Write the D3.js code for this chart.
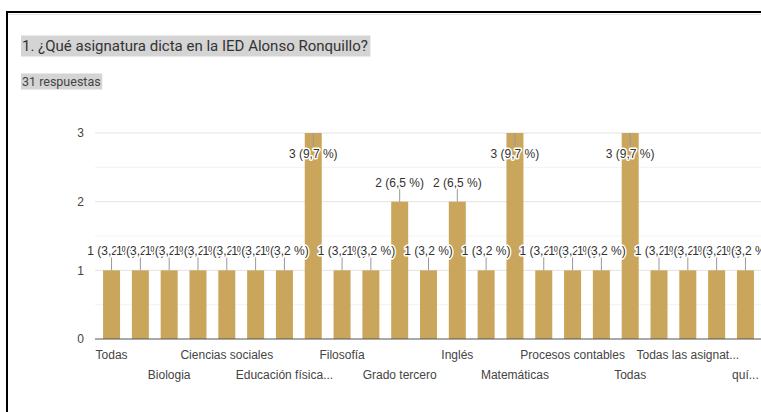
<!DOCTYPE html>
<html>
<head>
<meta charset="utf-8">
<script src="https://cdn.jsdelivr.net/npm/d3@7"></script>
<style>
  body { margin: 0; background: #fff; }
  svg { display: block; }
</style>
</head>
<body>
<div id="chart"></div>
<script>
// Chart data
const totalResponses = 31;
const values = [1, 1, 1, 1, 1, 1, 1, 3, 1, 1, 2, 1, 2, 1, 3, 1, 1, 1, 3, 1, 1, 1, 1];
// only every other category name is printed on the axis; the rest are unreadable
const tickLabels = ["Todas", "", "Biologia", "", "Ciencias sociales", "", "Educación física...", "",
  "Filosofía", "", "Grado tercero", "", "Inglés", "", "Matemáticas", "", "Procesos contables", "",
  "Todas", "", "Todas las asignat...", "", "quí..."];
const yTicks = [0, 1, 2, 3];
const yMinorTicks = [0.5, 1.5, 2.5];

const width = 761;
const height = 412;

const svg = d3.select("#chart")
  .append("svg")
  .attr("width", width)
  .attr("height", height);

// frame of the screenshot
svg.append("line")
  .attr("x1", 7).attr("x2", width).attr("y1", 12).attr("y2", 12)
  .attr("stroke", "#000").attr("stroke-width", 2);
svg.append("line")
  .attr("x1", 7).attr("x2", width).attr("y1", 14.5).attr("y2", 14.5)
  .attr("stroke", "#e6e6e6").attr("stroke-width", 1);
svg.append("line")
  .attr("x1", 7).attr("x2", 7).attr("y1", 11).attr("y2", height)
  .attr("stroke", "#000").attr("stroke-width", 2);

// title + count, with the grey highlight behind them
function highlighted(text, x, y, size, pad, color) {
  const g = svg.append("g");
  const rect = g.append("rect").attr("fill", "#d4d4d4");
  const t = g.append("text")
    .attr("x", x).attr("y", y)
    .attr("font-family", "Roboto, Arial, sans-serif")
    .attr("font-size", size)
    .attr("fill", color)
    .text(text);
  const b = t.node().getBBox();
  rect.attr("x", b.x - 1).attr("y", b.y - pad)
    .attr("width", b.width + pad + 2).attr("height", b.height + pad * 2);
}
highlighted("1. ¿Qué asignatura dicta en la IED Alonso Ronquillo?", 22, 51, 15, 1.5, "#333");
highlighted("31 respuestas", 22, 86, 12.5, 0.5, "#444");

// scales
const x = d3.scaleBand()
  .domain(values.map((d, i) => i))
  .range([97, 760])
  .paddingInner(0.41)
  .paddingOuter(0.21);

const y = d3.scaleLinear()
  .domain([0, 3])
  .range([339, 133]);

// gridlines
svg.append("g")
  .selectAll("line")
  .data(yMinorTicks)
  .join("line")
  .attr("x1", 95).attr("x2", width)
  .attr("y1", d => y(d)).attr("y2", d => y(d))
  .attr("stroke", "#f2f2f2");

svg.append("g")
  .selectAll("line")
  .data(yTicks.filter(d => d > 0))
  .join("line")
  .attr("x1", 95).attr("x2", width)
  .attr("y1", d => y(d)).attr("y2", d => y(d))
  .attr("stroke", "#e3e3e3");

// Y axis labels
const yAxis = svg.append("g")
  .attr("transform", "translate(95,0)")
  .call(d3.axisLeft(y).tickValues(yTicks).tickFormat(d3.format("d")).tickSize(0).tickPadding(11));
yAxis.select(".domain").remove();
yAxis.selectAll("text")
  .attr("font-family", "Arial, 'Liberation Sans', sans-serif")
  .attr("font-size", 12)
  .attr("fill", "#444");

// bars
svg.append("g")
  .selectAll("rect")
  .data(values)
  .join("rect")
  .attr("x", (d, i) => x(i))
  .attr("y", d => y(d))
  .attr("width", x.bandwidth())
  .attr("height", d => y(0) - y(d))
  .attr("fill", "#c9a65b");

// baseline
svg.append("line")
  .attr("x1", 95).attr("x2", width)
  .attr("y1", y(0)).attr("y2", y(0))
  .attr("stroke", "#555").attr("stroke-width", 1);

// X axis: labels alternate between two rows
const xAxis = svg.append("g")
  .attr("transform", `translate(0,${y(0)})`)
  .call(d3.axisBottom(x).tickFormat(i => tickLabels[i]).tickSize(0).tickPadding(0));
xAxis.select(".domain").remove();
xAxis.selectAll("text")
  .attr("font-family", "Arial, 'Liberation Sans', sans-serif")
  .attr("font-size", 12)
  .attr("fill", "#444")
  .attr("dy", null)
  .attr("y", i => (i % 4 === 0 ? 20 : 40));

// value annotations with leader lines (they overlap, as in the original)
const fmtPct = v => `${v} (${(v / totalResponses * 100).toFixed(1).replace(".", ",")} %)`;
const maxV = d3.max(values);
const ann = svg.append("g");
values.forEach((v, i) => {
  const cx = x(i) + x.bandwidth() / 2;
  const top = y(v);
  const inside = v === maxV;
  const base = inside ? top + 25 : top - 15;
  ann.append("line")
    .attr("x1", cx).attr("x2", cx)
    .attr("y1", top)
    .attr("y2", inside ? top + 13 : top - 13)
    .attr("stroke", "#999");
  ann.append("text")
    .attr("x", cx)
    .attr("y", base)
    .attr("text-anchor", "middle")
    .attr("font-family", "Arial, 'Liberation Sans', sans-serif")
    .attr("font-size", 12)
    .attr("fill", "#333")
    .attr("stroke", "#fff")
    .attr("stroke-width", 3)
    .attr("stroke-linejoin", "round")
    .attr("paint-order", "stroke")
    .text(fmtPct(v));
});
</script>
</body>
</html>
